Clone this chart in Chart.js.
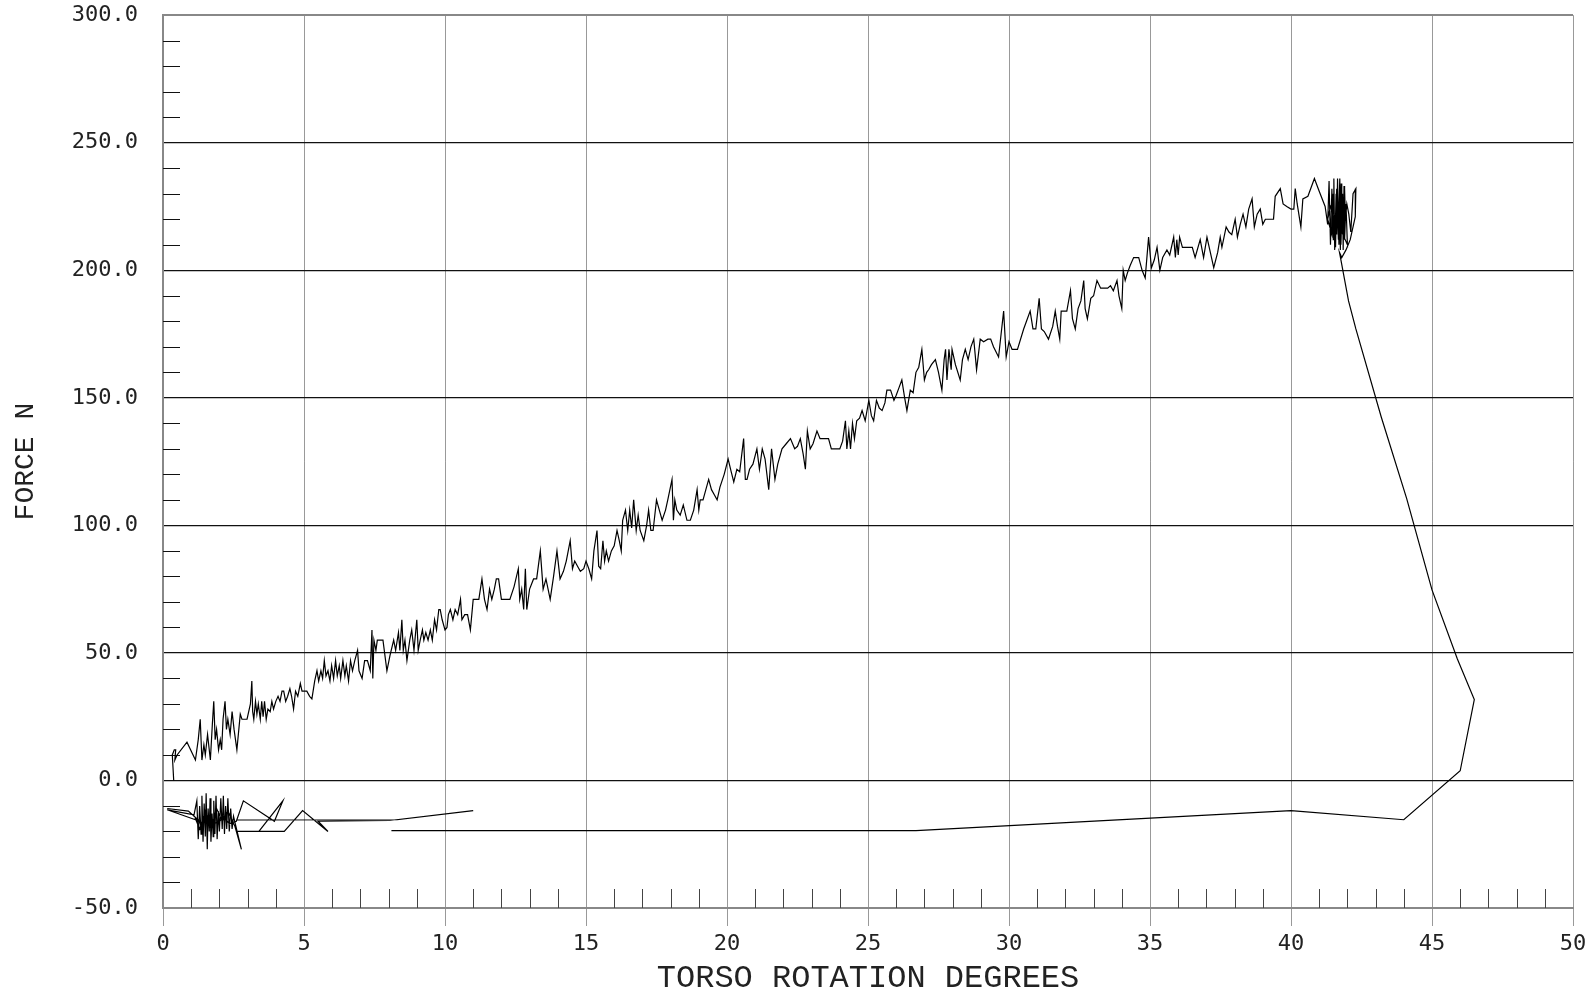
<!DOCTYPE html>
<html>
<head>
<meta charset="utf-8">
<script src="https://cdn.jsdelivr.net/npm/chart.js@4.4.1/dist/chart.umd.min.js"></script>
<style>
  html, body { margin: 0; padding: 0; background: #fff; overflow: hidden; }
  #wrap { width: 1595px; height: 995px; overflow: hidden; }
  /* chart.js reserves extra room above the top label, pull the canvas up by that much */
  #cnv { display: block; margin-top: -23px; }
</style>
</head>
<body>
<div id="wrap"><canvas id="cnv" width="1595" height="1018"></canvas></div>
<script>
// axis ranges / tick labels
var xRange = [0, 50];
var yRange = [-50, 300];
var xStep = 5;
var yStep = 50;

// torso rotation (deg), force (N) - loading phase
var rise = [
  [0.38,0],[0.33,10],[0.4,12],[0.45,12],[0.42,8],[0.5,10],[0.85,15],[1.15,8],[1.25,16],[1.32,24],
  [1.38,8],[1.45,14],[1.5,10],[1.58,18],[1.68,8],[1.75,22],[1.8,31],[1.85,16],[1.9,20],[1.97,12],
  [2.03,16],[2.08,12],[2.13,24],[2.2,31],[2.25,20],[2.3,24],[2.38,18],[2.45,27],[2.52,20],[2.62,12],
  [2.74,26],[2.8,24],[2.9,24],[2.98,24],[3.1,30],[3.15,39],[3.18,27],[3.22,24],[3.28,31],[3.33,26],
  [3.38,30],[3.45,24],[3.5,31],[3.55,25],[3.6,31],[3.66,24],[3.72,28],[3.8,27],[3.86,31],[3.92,28],
  [4.0,31],[4.08,33],[4.15,31],[4.22,35],[4.28,35],[4.35,31],[4.42,33],[4.5,36],[4.56,33],[4.63,28],
  [4.7,35],[4.78,33],[4.87,38],[4.93,35],[5.02,35],[5.1,35],[5.2,33],[5.28,32],[5.38,39],[5.46,43],
  [5.52,39],[5.6,43],[5.66,40],[5.72,47],[5.78,41],[5.85,43],[5.92,39],[5.98,45],[6.05,40],[6.12,47],
  [6.18,41],[6.25,45],[6.3,40],[6.38,47],[6.45,41],[6.5,45],[6.58,39],[6.65,47],[6.72,43],[6.8,47],
  [6.9,51],[6.95,43],[7.06,40],[7.15,47],[7.25,47],[7.35,43],[7.41,59],[7.44,40],[7.48,55],[7.55,51],
  [7.6,55],[7.68,55],[7.8,55],[7.94,43],[8.05,49],[8.18,55],[8.25,51],[8.35,58],[8.4,51],[8.47,63],
  [8.52,51],[8.58,55],[8.65,47],[8.75,55],[8.82,59],[8.9,51],[9.0,63],[9.05,51],[9.12,55],[9.2,59],
  [9.25,55],[9.32,58],[9.4,55],[9.48,59],[9.55,55],[9.63,63],[9.7,59],[9.78,67],[9.83,67],[9.9,63],
  [10.0,59],[10.07,60],[10.12,65],[10.19,67],[10.28,63],[10.36,67],[10.45,65],[10.55,71],[10.6,63],[10.7,65],
  [10.8,65],[10.9,59],[11.0,71],[11.1,71],[11.2,71],[11.31,79],[11.4,71],[11.49,67],[11.58,75],[11.66,71],
  [11.75,75],[11.82,79],[11.9,79],[12.0,71],[12.15,71],[12.3,71],[12.45,76],[12.6,83],[12.65,71],[12.72,75],
  [12.79,67],[12.85,83],[12.9,67],[13.0,75],[13.14,79],[13.25,79],[13.38,90],[13.48,75],[13.58,79],[13.73,71],
  [13.85,80],[13.97,90],[14.08,79],[14.2,82],[14.3,86],[14.44,94],[14.52,83],[14.6,86],[14.7,84],[14.8,82],
  [14.92,83],[15.0,86],[15.1,83],[15.2,79],[15.28,90],[15.39,98],[15.45,84],[15.52,83],[15.6,94],[15.66,86],
  [15.72,90],[15.8,86],[15.9,90],[16.0,92],[16.1,98],[16.18,94],[16.25,90],[16.3,102],[16.4,106],[16.48,98],
  [16.55,106],[16.62,99],[16.69,110],[16.78,98],[16.85,104],[16.92,98],[17.05,94],[17.15,100],[17.22,106],[17.3,98],
  [17.38,98],[17.5,110],[17.6,106],[17.7,102],[17.82,106],[17.9,110],[18.05,118],[18.1,102],[18.15,110],[18.22,106],
  [18.34,104],[18.45,108],[18.58,102],[18.7,102],[18.82,106],[18.94,114],[19.0,106],[19.05,110],[19.15,110],[19.25,114],
  [19.35,118],[19.45,114],[19.55,112],[19.65,110],[19.75,115],[19.9,120],[20.04,126],[20.15,121],[20.24,117],[20.35,122],
  [20.45,121],[20.59,134],[20.65,118],[20.71,118],[20.8,122],[20.92,124],[21.06,130],[21.15,122],[21.25,130],[21.35,126],
  [21.48,114],[21.58,130],[21.7,118],[21.8,124],[21.95,130],[22.1,132],[22.25,134],[22.4,130],[22.5,131],[22.6,134],
  [22.7,128],[22.78,122],[22.85,137],[22.95,130],[23.05,132],[23.19,137],[23.3,134],[23.45,134],[23.6,134],[23.7,130],
  [23.85,130],[24.0,130],[24.1,133],[24.2,141],[24.25,130],[24.32,137],[24.38,130],[24.45,140],[24.52,134],[24.6,141],
  [24.7,142],[24.79,145],[24.9,141],[25.03,149],[25.12,143],[25.2,141],[25.3,149],[25.4,146],[25.5,145],[25.6,148],
  [25.67,153],[25.8,153],[25.92,149],[26.0,151],[26.1,154],[26.2,157],[26.3,150],[26.38,145],[26.5,153],[26.6,152],
  [26.7,160],[26.8,162],[26.91,169],[27.0,157],[27.08,160],[27.15,161],[27.25,163],[27.39,165],[27.5,160],[27.62,153],
  [27.7,165],[27.75,169],[27.8,157],[27.87,169],[27.95,161],[27.98,169],[28.1,163],[28.27,157],[28.35,165],[28.45,169],
  [28.55,165],[28.65,170],[28.75,173],[28.85,161],[28.98,173],[29.1,172],[29.25,173],[29.35,173],[29.45,170],[29.63,166],
  [29.72,175],[29.81,184],[29.9,166],[30.0,172],[30.11,169],[30.3,169],[30.52,177],[30.62,180],[30.75,184],[30.85,177],
  [30.95,177],[31.07,189],[31.15,177],[31.25,176],[31.4,173],[31.55,178],[31.64,184],[31.72,178],[31.8,173],[31.85,184],
  [31.95,184],[32.05,184],[32.18,192],[32.25,181],[32.35,177],[32.45,185],[32.55,188],[32.65,196],[32.7,185],[32.78,181],
  [32.9,189],[33.0,190],[33.12,196],[33.25,193],[33.38,193],[33.5,193],[33.6,194],[33.7,192],[33.83,196],[33.9,190],
  [34.0,185],[34.05,200],[34.12,196],[34.2,199],[34.3,202],[34.42,205],[34.6,205],[34.72,200],[34.83,197],[34.95,213],
  [35.05,201],[35.15,204],[35.25,209],[35.35,200],[35.45,205],[35.6,208],[35.7,206],[35.84,213],[35.9,205],[35.95,212],
  [36.0,206],[36.05,213],[36.15,209],[36.3,209],[36.5,209],[36.6,205],[36.78,212],[36.9,205],[37.02,213],[37.1,209],
  [37.26,201],[37.4,207],[37.49,213],[37.55,209],[37.7,217],[37.8,215],[37.9,214],[38.02,220],[38.1,213],[38.2,218],
  [38.3,222],[38.4,217],[38.5,224],[38.62,228],[38.7,217],[38.8,222],[38.91,224],[39.0,218],[39.09,220],[39.38,220],
  [39.44,229],[39.62,232],[39.72,226],[39.85,225],[40.0,224],[40.1,224],[40.15,232],[40.22,226],[40.35,217],[40.42,228],
  [40.6,229],[40.83,236],[41.0,231],[41.21,225]
];

// hold at peak rotation
var peak = [
  [41.3,218],[41.35,235],[41.4,210],[41.45,232],[41.5,212],[41.52,236],[41.55,208],[41.6,230],[41.62,214],[41.65,236],
  [41.7,210],[41.72,228],[41.75,208],[41.78,234],[41.8,215],[41.83,230],[41.85,208],[41.88,233],[41.9,212],[41.95,226],
  [42.0,210],[41.4,225],[41.3,220],[41.45,214],[41.5,230],[41.58,209],[41.62,232],[41.68,212],[41.73,236],[41.77,210],
  [41.82,228],[41.86,213],[41.9,232],[41.93,220],[41.98,226],[42.05,222],[42.12,215],[42.2,230],[42.3,232],[42.28,221],
  [42.1,212],[41.95,208],[41.8,205],[41.72,207]
];

// release and return
var release = [
  [42.04,188],[42.3,177],[43.2,142.5],[44.1,110.6],[45.0,74.7],[45.9,47.6],[46.5,31.7],[46.0,3.8],
  [44.0,-15.4],[40.0,-11.8],[26.7,-19.7],[8.1,-19.7]
];

// unloaded start, below zero
var restTrace = [
  [0.15,-11],[0.9,-12],[1.3,-16],[0.15,-11.5],[1.1,-13.5],[1.2,-8],[1.25,-23],[1.3,-10],[1.35,-21],[1.38,-6],
  [1.42,-24],[1.46,-9],[1.5,-22],[1.53,-5],[1.57,-27],[1.6,-11],[1.64,-20],[1.67,-7],[1.7,-24],[1.74,-13],
  [1.78,-22],[1.8,-8],[1.84,-21],[1.88,-6],[1.92,-23],[1.96,-12],[2.0,-20],[2.05,-7],[2.1,-19],[2.14,-6],
  [2.18,-21],[2.22,-10],[2.26,-19],[2.3,-7],[2.35,-20],[2.4,-11],[2.45,-19],[2.5,-14],[2.78,-27],[2.55,-18],
  [2.3,-12],[2.1,-16],[1.9,-11],[1.7,-19],[1.5,-12],[1.3,-19],[1.15,-15],[1.35,-17],[1.55,-14],[1.75,-16],
  [1.95,-17],[2.15,-14],[2.35,-17],[2.6,-16],[2.85,-8],[3.95,-16],[4.25,-8],[3.4,-20],[2.65,-20],[4.3,-20],
  [4.95,-11.8],[5.85,-20],[5.5,-16],[8.05,-15.7],[11.0,-11.8],[8.3,-15.4],[2.6,-15.5]
];

function toPts(arr) {
  return arr.map(function(p) { return {x: p[0], y: p[1]}; });
}

// short ticks inside the frame: every 10 N on the left, every degree along the bottom
var minorTicks = {
  id: 'minorTicks',
  beforeDatasetsDraw: function(chart) {
    var ctx = chart.ctx, area = chart.chartArea, sx = chart.scales.x, sy = chart.scales.y;
    ctx.save();
    ctx.lineWidth = 1;
    ctx.strokeStyle = '#111';
    for (var v = sy.min + 10; v < sy.max; v += 10) {
      if (v % yStep === 0) continue;
      var py = Math.round(sy.getPixelForValue(v)) + 0.5;
      ctx.beginPath();
      ctx.moveTo(area.left, py);
      ctx.lineTo(area.left + 17, py);
      ctx.stroke();
    }
    ctx.strokeStyle = '#444';
    for (var u = sx.min + 1; u < sx.max; u += 1) {
      if (u % xStep === 0) continue;
      var px = Math.round(sx.getPixelForValue(u)) + 0.5;
      ctx.beginPath();
      ctx.moveTo(px, area.bottom);
      ctx.lineTo(px, area.bottom - 19);
      ctx.stroke();
    }
    ctx.restore();
  }
};

var tickFont = { family: '"DejaVu Sans Mono", monospace', size: 22 };
var titleFamily = '"Liberation Mono", "Courier New", monospace';

var cnv = document.getElementById('cnv').getContext('2d');
var traceChart = new Chart(cnv, {
  type: 'scatter',
  data: {
    datasets: [
      {
        data: toPts(rise.concat(peak, release)),
        showLine: true, borderColor: '#000', borderWidth: 1.2,
        pointRadius: 0, tension: 0
      },
      {
        data: toPts(restTrace),
        showLine: true, borderColor: '#000', borderWidth: 1.2,
        pointRadius: 0, tension: 0
      }
    ]
  },
  options: {
    responsive: false,
    animation: false,
    layout: { padding: { top: 15, right: 22, bottom: 0, left: 0 } },
    plugins: { legend: { display: false }, tooltip: { enabled: false } },
    scales: {
      x: {
        type: 'linear', min: xRange[0], max: xRange[1],
        afterFit: function(s) { s.height = 87; },
        ticks: { stepSize: xStep, font: tickFont, color: '#222', padding: 5,
          callback: function(v) { return String(v); } },
        grid: { color: '#999', lineWidth: 1, drawTicks: true, tickLength: 18, tickColor: '#999' },
        border: { color: '#888', width: 2 },
        title: { display: true, text: 'TORSO ROTATION DEGREES',
          font: { family: titleFamily, size: 32, lineHeight: 1.0 }, color: '#222',
          padding: { top: 0, bottom: 0 } }
      },
      y: {
        type: 'linear', min: yRange[0], max: yRange[1],
        afterFit: function(s) { s.width = 163; },
        ticks: { stepSize: yStep, font: tickFont, color: '#222', padding: 25,
          callback: function(v) { return v.toFixed(1); } },
        grid: {
          drawTicks: false,
          color: function(c) { return c.tick && c.tick.value === yRange[1] ? '#888' : '#111'; },
          lineWidth: function(c) { return c.tick && c.tick.value === yRange[1] ? 2 : 1.3; }
        },
        border: { color: '#888', width: 2 },
        title: { display: true, text: 'FORCE N', font: { family: titleFamily, size: 28 }, color: '#222',
          padding: { top: 9, bottom: 0 } }
      }
    }
  },
  plugins: [minorTicks]
});
</script>
</body>
</html>
